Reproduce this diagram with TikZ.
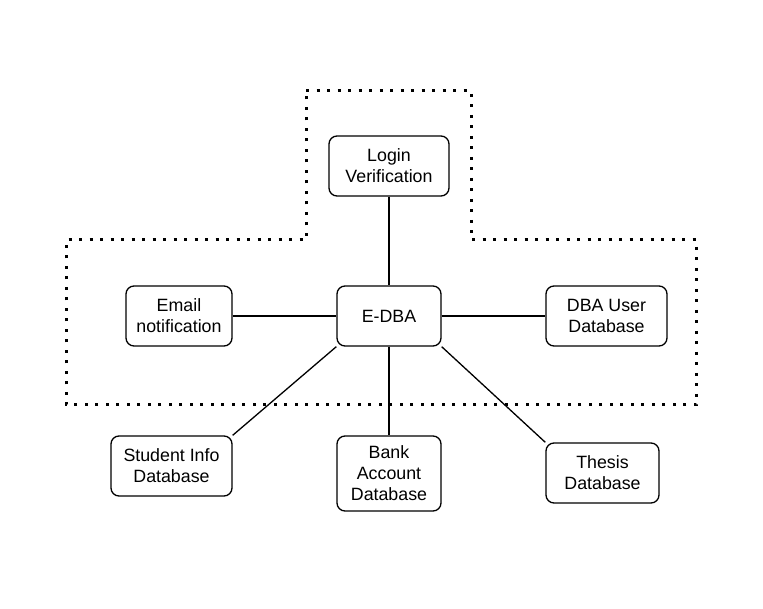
\documentclass[tikz,border=0pt]{standalone}
\usepackage{fontspec}
\setmainfont{Liberation Sans}
\begin{document}
\begin{tikzpicture}[x=1pt,y=-1pt,
  box/.style={draw=black,line width=1.3pt,rounded corners=8pt,align=center,inner sep=0pt,
    font=\fontsize{17.8}{21}\selectfont},
  link/.style={draw=black,line width=1.3pt},
  zone/.style={draw=black,line width=3pt,dash pattern=on 3pt off 7.5pt}]
\useasboundingbox (0,0) rectangle (763,609);
\draw[zone] (306,91) -- (471,91) -- (471,240) -- (696,240) -- (696,405) -- (66,405) -- (66,240) -- (306,240) -- cycle;
\node[box,minimum width=120pt,minimum height=60pt] (login) at (389,166) {Login\\Verification};
\node[box,minimum width=104pt,minimum height=60pt] (edba) at (389,316) {E-DBA};
\node[box,minimum width=106pt,minimum height=60pt] (email) at (179,316) {Email\\notification};
\node[box,minimum width=121pt,minimum height=60pt] (dbauser) at (606.5,316) {DBA User\\Database};
\node[box,minimum width=121pt,minimum height=60pt] (student) at (171.5,466) {Student Info\\Database};
\node[box,minimum width=104pt,minimum height=75pt] (bank) at (389,473.5) {Bank\\Account\\Database};
\node[box,minimum width=113pt,minimum height=60pt] (thesis) at (602.5,473) {Thesis\\Database};
\draw[link] (login.south) -- (edba.north);
\draw[link] (email.east) -- (edba.west);
\draw[link] (edba.east) -- (dbauser.west);
\draw[link] (edba.south) -- (bank.north);
\draw[link] (edba.south west) -- (student.north east);
\draw[link] (edba.south east) -- (thesis.north west);
\end{tikzpicture}
\end{document}
